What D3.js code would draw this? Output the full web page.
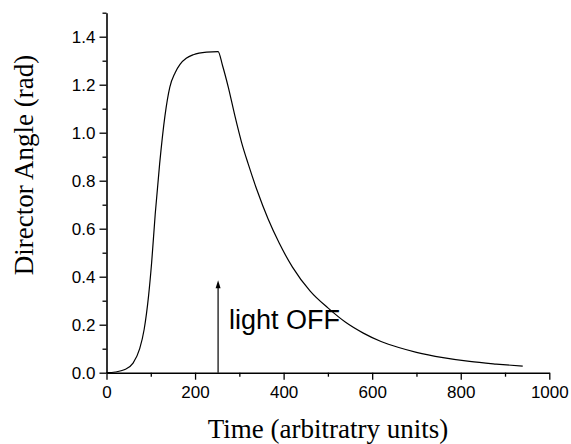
<!DOCTYPE html>
<html>
<head>
<meta charset="utf-8">
<script src="https://cdn.jsdelivr.net/npm/d3@7"></script>
<style>
    body { margin: 0; background: #fff; }
    svg { display: block; }
</style>
</head>
<body>
<svg id="drawing_region"></svg>
<script>
// time readings (arbitrary units) and director angle (rad)
var times = [0, 20, 40, 60, 75, 85, 95, 102, 110, 120, 132, 143, 155, 166, 180, 196, 226, 252,
    262, 275, 290, 305, 320, 340, 365, 390, 420, 460, 500, 540, 580, 620, 660, 700, 760, 820, 880, 940];
var angles = [0, 0.003, 0.012, 0.04, 0.1, 0.18, 0.32, 0.46, 0.66, 0.87, 1.07, 1.19, 1.25, 1.285, 1.31, 1.325, 1.336, 1.338,
    1.28, 1.19, 1.07, 0.96, 0.87, 0.76, 0.64, 0.54, 0.44, 0.34, 0.27, 0.21, 0.165, 0.13, 0.105, 0.085, 0.063, 0.047, 0.036, 0.027];

var xTicks = [0, 200, 400, 600, 800, 1000];
var xMinorTicks = [100, 300, 500, 700, 900];
var yTicks = [0.0, 0.2, 0.4, 0.6, 0.8, 1.0, 1.2, 1.4];
var yMinorTicks = [0.1, 0.3, 0.5, 0.7, 0.9, 1.1, 1.3, 1.5];

var lightOffTime = 252;
var lightOffTip = 0.385;

var width = 571;
var height = 444;
var margin = {top: 12.7, right: 21.7, bottom: 71.3, left: 106.5};

var svg = d3.select('#drawing_region')
    .attr('width', width)
    .attr('height', height);

var inner_width = width - margin.left - margin.right;
var inner_height = height - margin.top - margin.bottom;

var chart = svg.append('g')
    .attr('transform', `translate(${margin.left}, ${margin.top})`);

var xscale = d3.scaleLinear().domain([0, 1000]).range([0, inner_width]);
var yscale = d3.scaleLinear().domain([0, 1.5]).range([inner_height, 0]);

// minor ticks first, then the labelled axes on top
chart.append('g')
    .attr('transform', `translate(0, ${inner_height})`)
    .call(d3.axisBottom(xscale).tickValues(xMinorTicks).tickSize(4).tickFormat(''))
    .call(g => g.select('.domain').remove());

chart.append('g')
    .call(d3.axisLeft(yscale).tickValues(yMinorTicks).tickSize(4).tickFormat(''))
    .call(g => g.select('.domain').remove());

chart.append('g')
    .attr('transform', `translate(0, ${inner_height})`)
    .call(d3.axisBottom(xscale).tickValues(xTicks).tickSize(7).tickPadding(6).tickSizeOuter(0).tickFormat(d3.format('d')));

chart.append('g')
    .call(d3.axisLeft(yscale).tickValues(yTicks).tickSize(7).tickPadding(4).tickSizeOuter(0).tickFormat(d3.format('.1f')));

chart.selectAll('.tick line').attr('stroke', '#000').attr('stroke-width', 1.3);
chart.selectAll('.domain').attr('stroke', '#000').attr('stroke-width', 1.6);
chart.selectAll('.tick text')
    .attr('font-family', 'Liberation Sans, Arial, sans-serif')
    .attr('font-size', 17)
    .attr('fill', '#000');

// curve
var line = d3.line()
    .x(i => xscale(times[i]))
    .y(i => yscale(angles[i]))
    .curve(d3.curveMonotoneX);

chart.append('path')
    .datum(d3.range(times.length))
    .attr('d', line)
    .attr('fill', 'none')
    .attr('stroke', '#000')
    .attr('stroke-width', 1.2);

// arrow marking light off
chart.append('line')
    .attr('x1', xscale(lightOffTime))
    .attr('x2', xscale(lightOffTime))
    .attr('y1', yscale(0))
    .attr('y2', yscale(lightOffTip) + 7)
    .attr('stroke', '#000')
    .attr('stroke-width', 1.2);

chart.append('path')
    .attr('d', `M${xscale(lightOffTime)},${yscale(lightOffTip)} l-2.5,8 l5,0 Z`)
    .attr('fill', '#000');

chart.append('text')
    .attr('x', xscale(lightOffTime) + 11)
    .attr('y', 329.5 - margin.top)
    .attr('font-family', 'Liberation Sans, Arial, sans-serif')
    .attr('font-size', 27)
    .text('light OFF');

// axis titles
svg.append('text')
    .attr('x', 328)
    .attr('y', 438)
    .attr('text-anchor', 'middle')
    .attr('font-family', 'Liberation Serif, Times New Roman, serif')
    .attr('font-size', 27)
    .text('Time (arbitratry units)');

svg.append('text')
    .attr('transform', 'translate(33, 165) rotate(-90)')
    .attr('text-anchor', 'middle')
    .attr('font-family', 'Liberation Serif, Times New Roman, serif')
    .attr('font-size', 27)
    .text('Director Angle (rad)');
</script>
</body>
</html>
